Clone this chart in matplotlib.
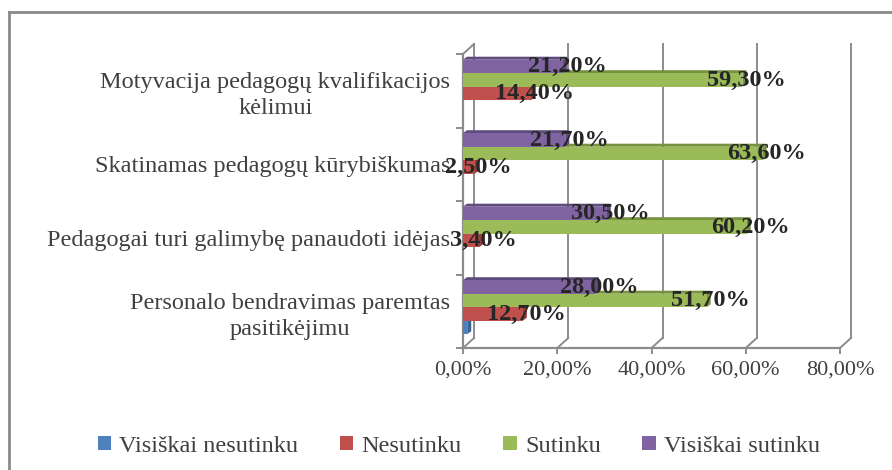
import matplotlib
matplotlib.use("Agg")
import matplotlib.pyplot as plt
from matplotlib.patches import Polygon, Patch
from matplotlib.lines import Line2D

# ---------------- data ----------------
categories = [
    "Personalo bendravimas paremtas\npasitikėjimu",
    "Pedagogai turi galimybę panaudoti idėjas",
    "Skatinamas pedagogų kūrybiškumas",
    "Motyvacija pedagogų kvalifikacijos\nkėlimui",
]
series_names = ["Visiškai nesutinku", "Nesutinku", "Sutinku", "Visiškai sutinku"]
visiskai_nesutinku = [0.9, 0.0, 0.0, 0.0]
nesutinku = [12.7, 3.4, 2.5, 14.4]
sutinku = [51.7, 60.2, 63.6, 59.3]
visiskai_sutinku = [28.0, 30.5, 21.7, 21.2]
x_ticks = [0, 20, 40, 60, 80]
x_tick_labels = ["0,00%", "20,00%", "40,00%", "60,00%", "80,00%"]

series = [visiskai_nesutinku, nesutinku, sutinku, visiskai_sutinku]
show_labels = [False, True, True, True]
colors = ["#4F81BD", "#C0504D", "#9BBB59", "#8064A2"]
dark = ["#3A6394", "#963B39", "#77923F", "#5F4B7D"]

SERIF = "Liberation Serif"
TXT = "#404040"
GRID = "#8C8C8C"

FW, FH = 892, 470
fig = plt.figure(figsize=(FW / 100, FH / 100), dpi=100)

# outer chart frame
fig.add_artist(Line2D([9 / FW, 9 / FW], [0, 1 - 12 / FH], transform=fig.transFigure,
                      color="#8A8A8A", lw=2))
fig.add_artist(Line2D([9 / FW, 1], [1 - 12 / FH, 1 - 12 / FH], transform=fig.transFigure,
                      color="#8A8A8A", lw=2))

AX_L, AX_B, AX_W, AX_H = 463, 122, 377, 294
ax = fig.add_axes([AX_L / FW, AX_B / FH, AX_W / FW, AX_H / FH])
XMAX, YMAX = 80, 4
ax.set_xlim(0, XMAX)
ax.set_ylim(0, YMAX)
for s in ax.spines.values():
    s.set_visible(False)

px_x = XMAX / AX_W
px_y = YMAX / AX_H
DX, DY = 11 * px_x, 10 * px_y

# 3D walls / grid
for t in x_ticks:
    ax.plot([t + DX, t + DX], [DY, YMAX + DY], color=GRID, lw=1.4, clip_on=False, zorder=1)
    ax.plot([t, t + DX], [0, DY], color=GRID, lw=1.4, clip_on=False, zorder=1)
ax.plot([0, 0], [0, YMAX], color=GRID, lw=1.6, clip_on=False, zorder=1)
ax.plot([0, DX], [YMAX, YMAX + DY], color=GRID, lw=1.4, clip_on=False, zorder=1)
ax.plot([0, XMAX], [0, 0], color=GRID, lw=1.6, clip_on=False, zorder=1)

# bars
n = len(series)
h = 13.5 * px_y
center_off = 0.555
bdx, bdy = 4 * px_x, 3 * px_y
for j, vals in enumerate(series):
    ys = [i + center_off + (j - (n - 1) / 2) * h for i in range(len(categories))]
    ax.barh(ys, vals, height=h, color=colors[j], zorder=3, linewidth=0)
    for y, v in zip(ys, vals):
        if v <= 0:
            continue
        top = y + h / 2
        bot = y - h / 2
        ax.add_patch(Polygon([(0, top), (v, top), (v + bdx, top + bdy), (bdx, top + bdy)],
                             closed=True, color=dark[j], lw=0, zorder=2))
        ax.add_patch(Polygon([(v, bot), (v, top), (v + bdx, top + bdy), (v + bdx, bot + bdy)],
                             closed=True, color=dark[j], lw=0, zorder=2))
        if show_labels[j]:
            ax.text(v + bdx, y, f"{v:.2f}%".replace(".", ","), ha="center", va="center",
                    fontsize=17.5, fontweight="bold", family=SERIF, color="#262626", zorder=6)

# axes ticks
ax.set_xticks(x_ticks)
ax.set_xticklabels(x_tick_labels, family=SERIF, fontsize=16, color=TXT)
ax.tick_params(axis="x", length=4, width=1.4, color=GRID, pad=5)

ax.set_yticks([i + 0.5 for i in range(len(categories))])
ax.set_yticklabels(categories, family=SERIF, fontsize=17.5, color=TXT,
                   multialignment="center", linespacing=1.3)
ax.tick_params(axis="y", which="major", length=0, pad=9)
ax.set_yticks(range(len(categories) + 1), minor=True)
ax.tick_params(axis="y", which="minor", length=5, width=1.4, color=GRID)

# legend
handles = [Patch(facecolor=c, edgecolor="none") for c in colors]
fig.legend(handles, series_names, loc="center", bbox_to_anchor=(459 / FW, 24 / FH), ncol=4,
           frameon=False, prop={"family": SERIF, "size": 17.5}, labelcolor=TXT,
           handlelength=0.55, handleheight=0.55, handletextpad=0.35, columnspacing=1.7)

fig.savefig("out.png", dpi=100)
